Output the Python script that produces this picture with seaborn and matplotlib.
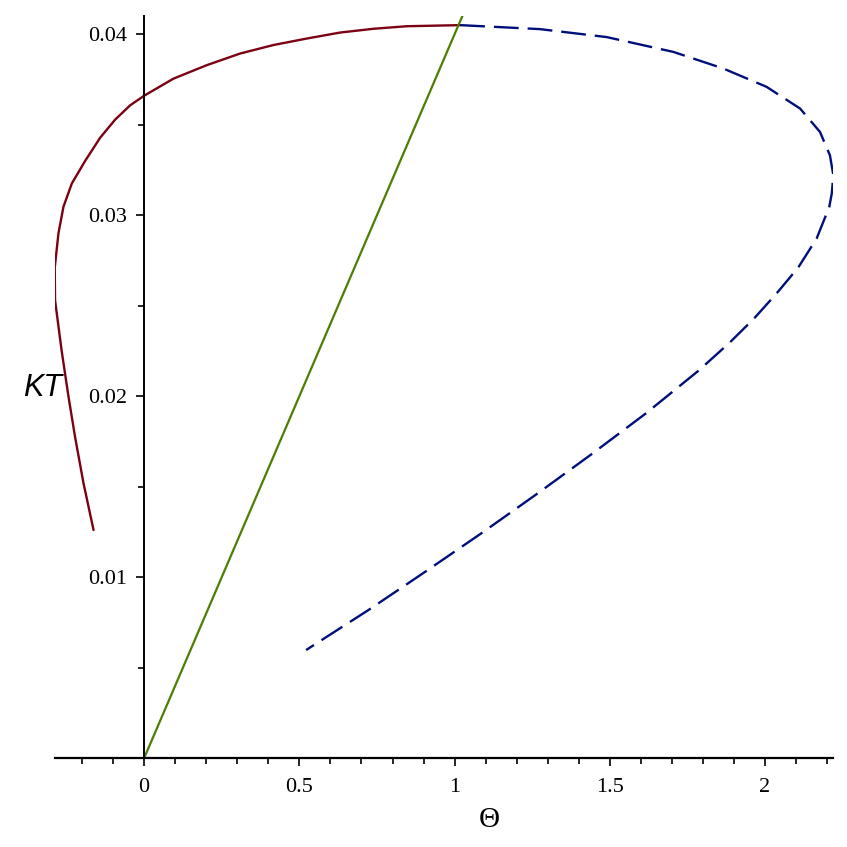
import numpy as np
import pandas as pd
import matplotlib
matplotlib.use("Agg")
import matplotlib.pyplot as plt
from matplotlib.ticker import MultipleLocator
import seaborn as sns

# values
red_theta = [-0.163, -0.1955, -0.2226, -0.244, -0.2657, -0.287, -0.288, -0.276, -0.260,
             -0.233, -0.190, -0.1417, -0.0934, -0.0451, 0.0, 0.094, 0.202, 0.309,
             0.416, 0.524, 0.631, 0.739, 0.846, 1.018]
red_kt = [0.0126, 0.0152, 0.01775, 0.0200, 0.0225, 0.0253, 0.0271, 0.0290, 0.03046,
          0.03175, 0.0330, 0.03428, 0.03528, 0.03607, 0.0366, 0.03754, 0.03829, 0.03893,
          0.0394, 0.03976, 0.04009, 0.0403, 0.04044, 0.0405]

blue_theta = [1.018, 1.275, 1.490, 1.705, 1.866, 2.005, 2.113, 2.177, 2.209, 2.220,
              2.215, 2.207, 2.166, 2.107, 2.037, 1.9646, 1.885, 1.7853, 1.6157,
              1.4418, 1.2647, 1.0853, 0.905, 0.7225, 0.5217]
blue_kt = [0.0405, 0.04028, 0.03984, 0.03902, 0.0381, 0.03709, 0.03589, 0.0346, 0.03331, 0.03221,
           0.0312, 0.03046, 0.0287, 0.02711, 0.02567, 0.02429, 0.02294, 0.0214, 0.01904,
           0.0168, 0.01459, 0.01241, 0.01029, 0.00818, 0.00597]

green_theta = [0.0, 1.03]
green_kt = [0.0, 0.0412]

x_ticks = [0, 0.5, 1, 1.5, 2]
x_labels = ["0", "0.5", "1", "1.5", "2"]
y_ticks = [0.01, 0.02, 0.03, 0.04]
y_labels = ["0.01", "0.02", "0.03", "0.04"]

red_df = pd.DataFrame({"theta": red_theta, "KT": red_kt})
blue_df = pd.DataFrame({"theta": blue_theta, "KT": blue_kt})
green_df = pd.DataFrame({"theta": green_theta, "KT": green_kt})

sns.set_style("ticks")
plt.rcParams["font.family"] = ["Liberation Serif", "DejaVu Serif"]
for key in ["text.color", "axes.labelcolor", "xtick.color", "ytick.color", "axes.edgecolor"]:
    plt.rcParams[key] = "black"

fig = plt.figure(figsize=(8.47, 8.47), dpi=100)
ax = fig.add_axes([0.065, 0.105, 0.9185, 0.876])

sns.lineplot(data=red_df, x="theta", y="KT", sort=False, estimator=None,
             color="#7a0012", linewidth=1.7, ax=ax)
sns.lineplot(data=blue_df, x="theta", y="KT", sort=False, estimator=None,
             color="#000f7a", linewidth=1.7, linestyle=(0, (10.5, 3.8)), ax=ax)
sns.lineplot(data=green_df, x="theta", y="KT", sort=False, estimator=None,
             color="#4c7f00", linewidth=1.6, ax=ax)

ax.set_xlim(-0.287, 2.219)
ax.set_ylim(0, 0.041)

# axes crossing at the origin
ax.spines["left"].set_position(("data", 0))
ax.spines["bottom"].set_position(("data", 0))
ax.spines["top"].set_visible(False)
ax.spines["right"].set_visible(False)
ax.spines["left"].set_linewidth(1.4)
ax.spines["bottom"].set_linewidth(1.6)

ax.set_xticks(x_ticks, x_labels)
ax.set_yticks(y_ticks, y_labels)
ax.xaxis.set_minor_locator(MultipleLocator(0.1))
ax.yaxis.set_minor_locator(MultipleLocator(0.005))
ax.tick_params(which="major", length=6, width=1.2, labelsize=16, pad=6)
ax.tick_params(which="minor", length=4, width=1.2)
ax.tick_params(axis="x", which="major", pad=8)

ax.set_xlabel("Θ", fontsize=21, va="center")
ax.xaxis.set_label_coords(0.5587, -0.0835)
ax.set_ylabel("KT", fontsize=22, rotation=0, style="italic",
              family=["Liberation Sans", "DejaVu Sans"], ha="center", va="center")
ax.yaxis.set_label_coords(-0.0158, 0.499)

fig.savefig("out.png", dpi=100)
